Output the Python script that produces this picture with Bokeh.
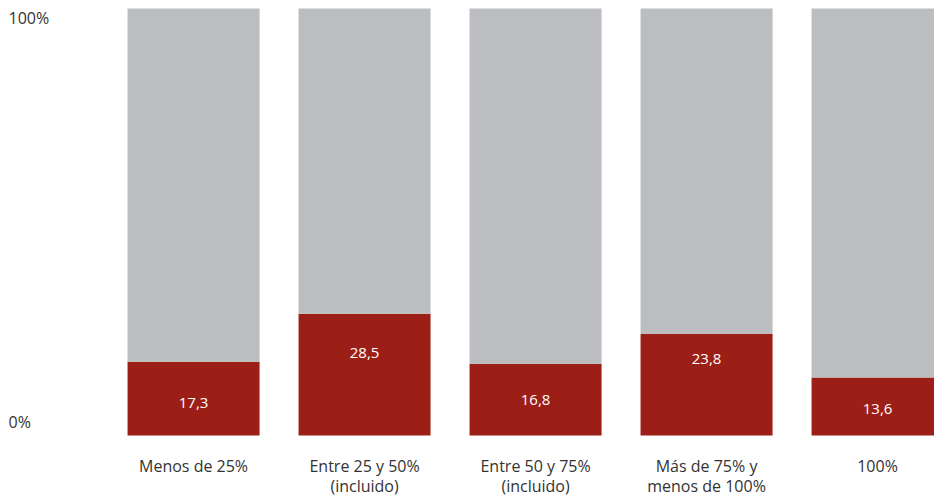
from bokeh.plotting import figure
from bokeh.models import ColumnDataSource, Range1d
from bokeh.core.properties import value
from bokeh.embed import file_html
from bokeh.resources import INLINE

categories = ["Menos de 25%", "Entre 25 y 50%\n(incluido)", "Entre 50 y 75%\n(incluido)",
              "Más de 75% y\nmenos de 100%", "100%"]
values = [17.3, 28.5, 16.8, 23.8, 13.6]
value_labels = ["17,3", "28,5", "16,8", "23,8", "13,6"]
y_tick_labels = ["0%", "100%"]
y_tick_values = [0, 100]

# layout (label heights inside bars, in % units)
label_y = [7.7, 19.4, 8.2, 18.0, 6.3]

RED = "#9c1f17"
GREY = "#bcbdc0"
FONT = "Open Sans"

xs = list(range(len(categories)))
rest = [100 - v for v in values]
line1 = [c.split("\n")[0] for c in categories]
line2 = [c.split("\n")[1] if "\n" in c else "" for c in categories]

src = ColumnDataSource(dict(x=xs, v=values, rest=rest, top=[100] * len(xs),
                            lab=value_labels, ly=label_y, l1=line1, l2=line2,
                            y1=[-7.1] * len(xs), y2=[-11.9] * len(xs)))

p = figure(width=934, height=498, output_backend="svg", toolbar_location=None,
           x_range=Range1d(-1.129, 4.333), y_range=Range1d(-14.75, 101.87),
           min_border=0, outline_line_color=None)
p.axis.visible = False
p.grid.visible = False
p.background_fill_color = "white"
p.border_fill_color = "white"

W = 0.772
p.vbar(x="x", bottom=0, top="v", width=W, fill_color=RED, line_color=None, source=src)
p.vbar(x="x", bottom="v", top="top", width=W, fill_color=GREY, line_color=None, source=src)

p.text(x="x", y="ly", text="lab", source=src, text_color="white",
       text_font=value(FONT), text_font_size="15px", text_align="center",
       text_baseline="middle")

for col in ("1", "2"):
    p.text(x="x", y="y" + col, text="l" + col, source=src, text_color="#333333",
           text_font=value(FONT), text_font_size="16px", text_align="center",
           text_baseline="middle")

tsrc = ColumnDataSource(dict(x=[-1.129 + 0.047] * 2,
                             y=[y_tick_values[0] + 3.28, y_tick_values[1] - 2.34],
                             t=y_tick_labels))
p.text(x="x", y="y", text="t", source=tsrc, text_color="#333333",
       text_font=value(FONT), text_font_size="16px", text_align="left",
       text_baseline="middle")

open("out.html", "w").write(file_html(p, INLINE))
